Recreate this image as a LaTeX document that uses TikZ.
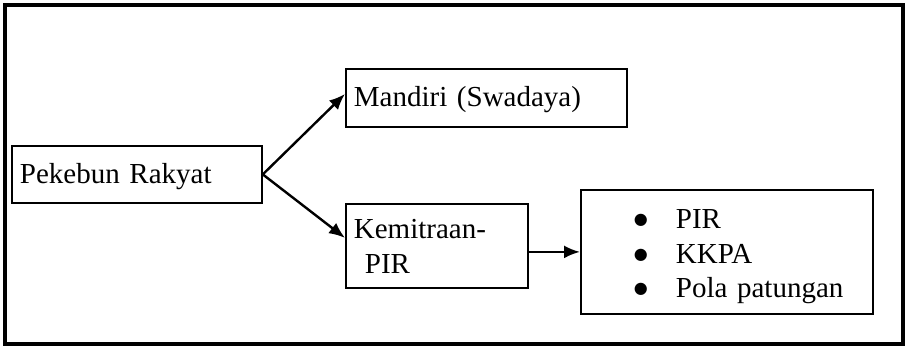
\documentclass[tikz,border=0pt]{standalone}
\usepackage{fontspec}
\setmainfont{Liberation Serif}
\newfontfamily\simbol{DejaVu Sans}
\usetikzlibrary{arrows.meta}
\newcommand{\butir}[1]{\hspace*{45pt}\makebox[42pt][l]{\raisebox{4pt}{\simbol\fontsize{16pt}{0pt}\selectfont ●}}#1}
\tikzset{panah/.style={draw, line width=2.4pt, -{Latex[length=16pt,width=13pt]}}}

\begin{document}
\begin{tikzpicture}[x=1pt,y=-1pt]

      \useasboundingbox (0,0) rectangle (906,349);
      \draw[line width=4pt] (5,5) rectangle (903,344);

      \begin{scope}[every node/.style={draw, line width=1.8pt, anchor=north west,
          inner xsep=8pt, inner ysep=0pt, align=left,
          font=\fontsize{29pt}{34.5pt}\selectfont}]
        \node[minimum width=250pt, minimum height=57pt, text width=234pt,
          text height=20pt, text depth=2pt] (1) at (11,145) {Pekebun Rakyat};
        \node[minimum width=281pt, minimum height=58pt, text width=265pt,
          text height=20pt, text depth=2pt] (2) at (345,68) {Mandiri (Swadaya)};
        \node[minimum width=182pt, minimum height=84pt, text width=166pt,
          text height=20pt, text depth=34pt] (3) at (345,203) {Kemitraan-\\\hspace*{11pt}PIR};
        \node[minimum width=292pt, minimum height=124pt, text width=276pt,
          text height=24pt, text depth=70pt] (4) at (580,189)
          {\butir{PIR}\\\butir{KKPA}\\\butir{Pola patungan}};
      \end{scope}

      \path (1.east) edge[panah] ([yshift=4pt]2.west);
      \path (1.east) edge[panah] ([yshift=8pt]3.west);
      \path (3.east |- 4.west) edge[panah] (4.west);

    \end{tikzpicture}
\end{document}
